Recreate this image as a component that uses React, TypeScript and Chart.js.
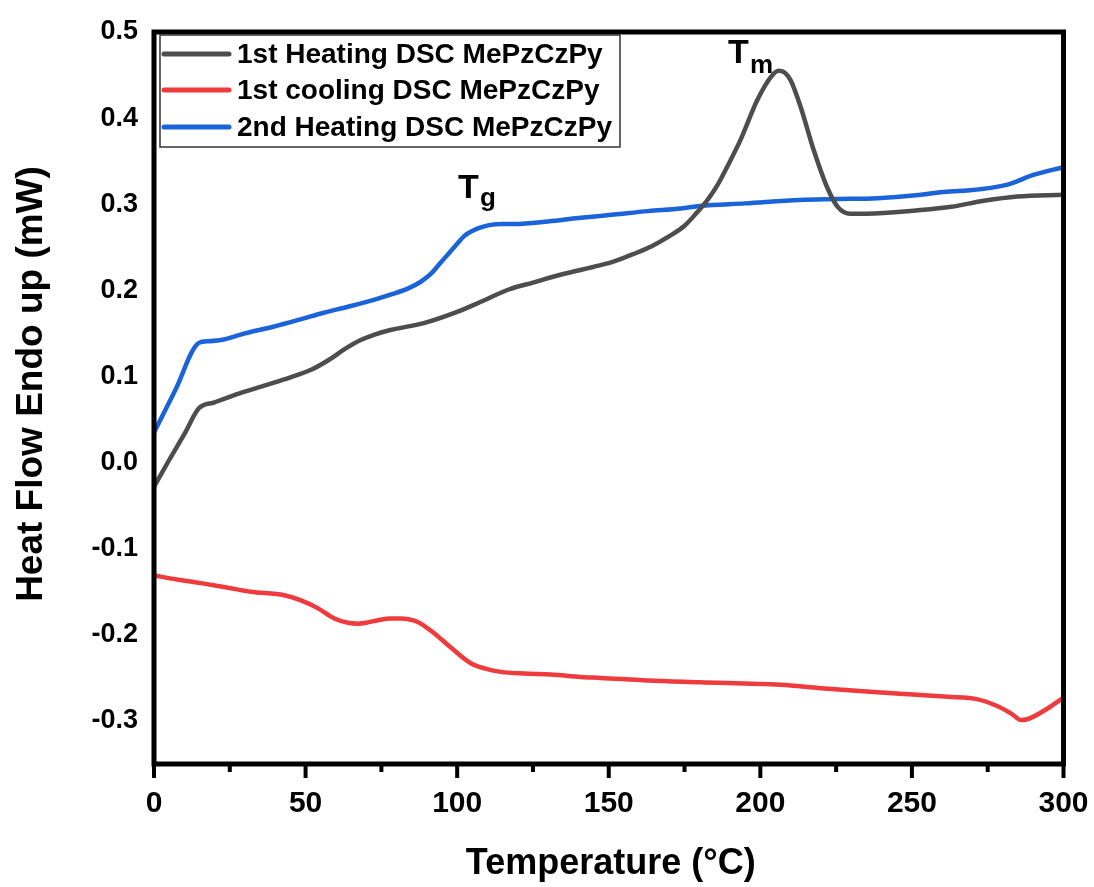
import React, { useEffect, useRef } from "react";
import { Chart, registerables } from "chart.js";

Chart.register(...registerables);

// ---- data ----
const heat1X = [0, 5, 10, 14.8, 20, 28.7, 37, 45, 52, 58, 63, 68, 73, 78, 89, 100, 108, 117, 125, 135, 147, 152, 158, 164, 170, 175, 179, 182.6, 186, 189, 193.5, 199, 203.5, 206, 208, 210, 213.3, 217.6, 222, 225.5, 229.8, 235, 252, 263, 273.7, 284.8, 300];
const heat1Y = [-0.028, 0.003, 0.033, 0.063, 0.07, 0.081, 0.09, 0.099, 0.108, 0.12, 0.132, 0.142, 0.149, 0.154, 0.162, 0.175, 0.187, 0.201, 0.209, 0.219, 0.229, 0.234, 0.242, 0.251, 0.263, 0.275, 0.29, 0.305, 0.323, 0.343, 0.375, 0.421, 0.448, 0.455, 0.453, 0.444, 0.413, 0.363, 0.32, 0.297, 0.289, 0.289, 0.293, 0.297, 0.304, 0.309, 0.311];

const coolX = [0, 8, 15.5, 24, 32, 43, 48.5, 54, 59.5, 64, 67.3, 70, 73.9, 78, 81.4, 84, 87, 92, 98, 104.5, 109, 114.4, 122, 130.9, 140.8, 147.4, 162.8, 180, 206.7, 220, 239.7, 261.8, 271.7, 278.3, 283, 286, 288, 290.1, 295, 300];
const coolY = [-0.131, -0.136, -0.14, -0.145, -0.15, -0.154, -0.16, -0.169, -0.181, -0.186, -0.187, -0.186, -0.183, -0.181, -0.181, -0.182, -0.185, -0.197, -0.215, -0.233, -0.239, -0.243, -0.245, -0.246, -0.249, -0.25, -0.253, -0.255, -0.258, -0.262, -0.267, -0.272, -0.275, -0.283, -0.292, -0.299, -0.298, -0.295, -0.285, -0.273];

const heat2X = [0, 7, 14.8, 18, 23, 30, 39.6, 48, 56, 64, 72.5, 78, 83.7, 88, 91.3, 94, 97, 100, 102.3, 105, 107.8, 111, 115, 118.8, 130, 140, 151.7, 163, 173.8, 180, 195, 213, 225, 238.6, 253, 259.5, 268, 276, 282.6, 290, 300];
const heat2Y = [0.035, 0.084, 0.139, 0.141, 0.143, 0.15, 0.158, 0.166, 0.174, 0.181, 0.189, 0.195, 0.202, 0.21, 0.219, 0.23, 0.242, 0.254, 0.263, 0.269, 0.273, 0.276, 0.277, 0.277, 0.28, 0.284, 0.288, 0.292, 0.295, 0.298, 0.301, 0.305, 0.306, 0.307, 0.311, 0.314, 0.316, 0.319, 0.324, 0.334, 0.343];

const seriesLabels = ["1st Heating DSC MePzCzPy", "1st cooling DSC MePzCzPy", "2nd Heating DSC MePzCzPy"];
const seriesColors = ["#4d4d4d", "#ee3b3e", "#1a63d8"];

const xMajorTicks = [0, 50, 100, 150, 200, 250, 300];
const xMinorTicks = [25, 75, 125, 175, 225, 275];
const yTicks = [-0.3, -0.2, -0.1, 0.0, 0.1, 0.2, 0.3, 0.4, 0.5];

const xTitle = "Temperature (\u00B0C)";
const yTitle = "Heat Flow Endo up (mW)";
const annotations = [
  { main: "T", sub: "g", x: 458, y: 198, subDx: 22, subDy: 8 },
  { main: "T", sub: "m", x: 728, y: 63, subDx: 22, subDy: 10 },
];

const FONT = '"Liberation Sans", Arial, Helvetica, sans-serif';
const W = 1094;
const H = 887;

const pts = (xs: number[], ys: number[]) => xs.map((x, i) => ({ x, y: ys[i] }));

const framePlugin = {
  id: "frameAndExtras",
  afterDatasetsDraw(chart: any) {
    const { ctx, chartArea } = chart;
    const xs = chart.scales.x;
    ctx.save();
    // frame
    ctx.strokeStyle = "#000";
    ctx.lineWidth = 5;
    ctx.strokeRect(chartArea.left, chartArea.top, chartArea.right - chartArea.left, chartArea.bottom - chartArea.top);
    // x ticks
    ctx.lineWidth = 4;
    ctx.beginPath();
    for (const v of xMajorTicks) {
      const px = xs.getPixelForValue(v);
      ctx.moveTo(px, chartArea.bottom);
      ctx.lineTo(px, chartArea.bottom + 14);
    }
    for (const v of xMinorTicks) {
      const px = xs.getPixelForValue(v);
      ctx.moveTo(px, chartArea.bottom);
      ctx.lineTo(px, chartArea.bottom + 8);
    }
    ctx.stroke();

    // legend box
    const lx = 160, ly = 35, lw = 460, lh = 112;
    ctx.fillStyle = "#fff";
    ctx.fillRect(lx, ly, lw, lh);
    ctx.lineWidth = 1.5;
    ctx.strokeStyle = "#333";
    ctx.strokeRect(lx, ly, lw, lh);
    const rows = [54, 90, 127];
    ctx.font = `bold 28px ${FONT}`;
    ctx.textBaseline = "middle";
    ctx.textAlign = "left";
    chart.data.datasets.forEach((ds: any, i: number) => {
      ctx.strokeStyle = ds.borderColor;
      ctx.lineWidth = 5;
      ctx.lineCap = "round";
      ctx.beginPath();
      ctx.moveTo(164, rows[i]);
      ctx.lineTo(229, rows[i]);
      ctx.stroke();
      ctx.fillStyle = "#000";
      ctx.fillText(ds.label, 237, rows[i] + 1);
    });

    // annotations
    ctx.textBaseline = "alphabetic";
    ctx.fillStyle = "#000";
    for (const a of annotations) {
      ctx.font = `bold 34px ${FONT}`;
      ctx.fillText(a.main, a.x, a.y);
      ctx.font = `bold 26px ${FONT}`;
      ctx.fillText(a.sub, a.x + a.subDx, a.y + a.subDy);
    }

    // axis titles
    ctx.font = `bold 36px ${FONT}`;
    ctx.textAlign = "center";
    ctx.textBaseline = "middle";
    ctx.fillText(xTitle, (chartArea.left + chartArea.right) / 2 + 2, 864);
    ctx.save();
    ctx.translate(32, 384);
    ctx.rotate(-Math.PI / 2);
    ctx.font = `bold 37px ${FONT}`;
    ctx.fillText(yTitle, 0, 0);
    ctx.restore();
    ctx.restore();
  },
};

export default function App() {
  const canvasRef = useRef<HTMLCanvasElement | null>(null);

  useEffect(() => {
    if (!canvasRef.current) return;
    const chart = new Chart(canvasRef.current, {
      type: "line",
      data: {
        datasets: [
          { label: seriesLabels[0], data: pts(heat1X, heat1Y), borderColor: seriesColors[0] },
          { label: seriesLabels[1], data: pts(coolX, coolY), borderColor: seriesColors[1] },
          { label: seriesLabels[2], data: pts(heat2X, heat2Y), borderColor: seriesColors[2] },
        ].map((d) => ({
          ...d,
          borderWidth: 4.5,
          pointRadius: 0,
          fill: false,
          cubicInterpolationMode: "monotone" as const,
          borderCapStyle: "round" as const,
          borderJoinStyle: "round" as const,
        })),
      },
      options: {
        animation: false,
        responsive: false,
        devicePixelRatio: 1,
        layout: { padding: { left: 0, top: 32, right: 30.5, bottom: 0 } },
        plugins: { legend: { display: false }, tooltip: { enabled: false } },
        scales: {
          x: {
            type: "linear",
            min: 0,
            max: 300,
            grid: { display: false, drawTicks: false },
            border: { display: false },
            afterBuildTicks: (s: any) => {
              s.ticks = xMajorTicks.map((v) => ({ value: v }));
            },
            afterFit: (s: any) => {
              s.height = 123;
              s.paddingLeft = 0;
              s.paddingRight = 0;
            },
            ticks: {
              padding: 22,
              color: "#000",
              maxRotation: 0,
              font: { family: FONT, size: 30, weight: "bold" },
              callback: (v: any) => String(v),
            },
          },
          y: {
            type: "linear",
            min: -0.35,
            max: 0.5,
            grid: { display: false, drawTicks: false },
            border: { display: false },
            afterBuildTicks: (s: any) => {
              s.ticks = yTicks.map((v) => ({ value: v }));
            },
            afterFit: (s: any) => {
              s.width = 154;
              s.paddingTop = 0;
              s.paddingBottom = 0;
            },
            ticks: {
              padding: 16,
              color: "#000",
              font: { family: FONT, size: 27, weight: "bold" },
              callback: (v: any) => Number(v).toFixed(1),
            },
          },
        },
      },
      plugins: [framePlugin],
    });
    return () => chart.destroy();
  }, []);

  return (
    <div style={{ position: "fixed", left: 0, top: 0, width: W, height: H, background: "#fff", overflow: "hidden" }}>
      <canvas ref={canvasRef} width={W} height={H} style={{ display: "block", width: W, height: H }} />
    </div>
  );
}
